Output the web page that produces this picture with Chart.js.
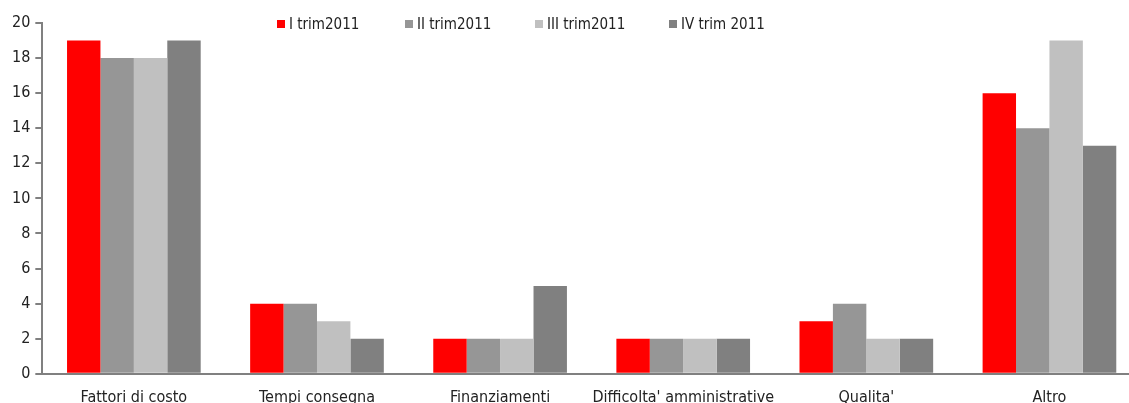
<!DOCTYPE html>
<html>
<head>
<meta charset="utf-8">
<script src="https://cdn.jsdelivr.net/npm/chart.js@4/dist/chart.umd.min.js"></script>
<style>
  html, body { margin: 0; padding: 0; background: #fff; overflow: hidden; }
  #wrap { position: relative; width: 1129px; height: 413px; overflow: hidden; }
  #legend { position: absolute; top: 15px; left: 0; width: 1129px; height: 20px;
    font: 15px "Liberation Sans Narrow", "DejaVu Sans Condensed", sans-serif; color: #222; }
  #legend span { position: absolute; white-space: nowrap; }
  #legend i { display: inline-block; width: 8px; height: 8px; margin-right: 4px; vertical-align: 1px; }
</style>
</head>
<body>
<div id="wrap">
  <canvas id="chart" width="1142" height="413"></canvas>
  <div id="legend"></div>
</div>
<script>
var categories = ["Fattori di costo", "Tempi consegna", "Finanziamenti", "Difficolta' amministrative", "Qualita'", "Altro"];
var seriesNames = ["I trim2011", "II trim2011", "III trim2011", "IV trim 2011"];
var trim1 = [19, 4, 2, 2, 3, 16];
var trim2 = [18, 4, 2, 2, 4, 14];
var trim3 = [18, 3, 2, 2, 2, 19];
var trim4 = [19, 2, 5, 2, 2, 13];
var colors = ["#ff0000", "#969696", "#c0c0c0", "#808080"];
var legendX = [277, 405, 535, 669];

var font = "'Liberation Sans Narrow', 'DejaVu Sans Condensed', sans-serif";
var values = [trim1, trim2, trim3, trim4];

var chart = new Chart(document.getElementById("chart"), {
  type: "bar",
  data: {
    labels: categories,
    datasets: values.map(function (v, i) {
      return {
        label: seriesNames[i],
        data: v,
        backgroundColor: colors[i],
        borderWidth: 0,
        categoryPercentage: 0.73,
        barPercentage: 1
      };
    })
  },
  options: {
    responsive: false,
    animation: false,
    layout: { padding: { top: 23, right: 1, left: 7, bottom: 0 } },
    plugins: { legend: { display: false }, tooltip: { enabled: false } },
    scales: {
      x: {
        grid: { display: false },
        border: { color: "#808080", width: 2 },
        ticks: { color: "#222", font: { family: font, size: 16 }, padding: 6, maxRotation: 0, autoSkip: false }
      },
      y: {
        min: 0,
        max: 20,
        ticks: { stepSize: 2, color: "#222", font: { family: font, size: 16 }, padding: 5 },
        grid: { drawOnChartArea: false, color: "#808080", lineWidth: 2, tickLength: 7 },
        border: { color: "#808080", width: 2 }
      }
    }
  }
});

var legend = document.getElementById("legend");
seriesNames.forEach(function (name, i) {
  var s = document.createElement("span");
  s.style.left = legendX[i] + "px";
  s.innerHTML = '<i style="background:' + colors[i] + '"></i>' + name;
  legend.appendChild(s);
});
</script>
</body>
</html>
